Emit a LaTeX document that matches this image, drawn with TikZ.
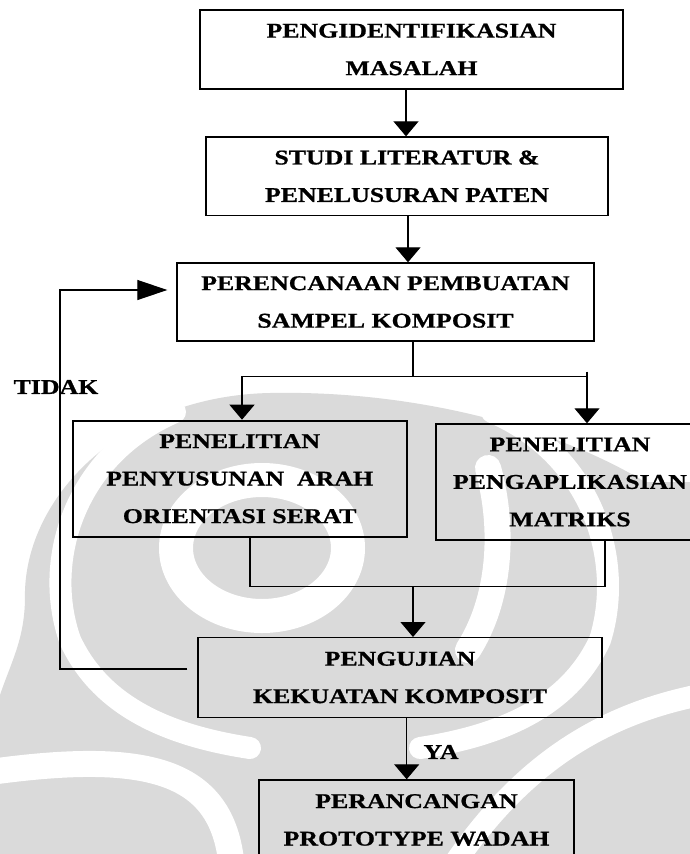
\documentclass[tikz,border=0pt]{standalone}
\usepackage{fontspec}
\newfontfamily\tnr{Liberation Serif}[FakeStretch=1.23,BoldFeatures={FakeBold=0.8}]
\usetikzlibrary{arrows.meta,calc}
\definecolor{wm}{RGB}{218,218,218}
\begin{document}
\begin{tikzpicture}[x=1pt,y=-1pt,
  box/.style={draw=black,line width=1.4pt,align=center,inner sep=0pt,
    font=\tnr\bfseries\fontsize{21}{37.5}\selectfont},
  conn/.style={line width=1.2pt},
  arr/.style={conn,-{Triangle[width=25pt,length=15pt]}},
  arrh/.style={conn,-{Triangle[width=20pt,length=30pt]}},
  lbl/.style={font=\tnr\bfseries\fontsize{21}{24}\selectfont,inner sep=0pt},
  wband/.style={draw=white,line cap=round}]
\fill[white] (0,0) rectangle (690,854);
\useasboundingbox (0,0) rectangle (690,854);
% watermark (approximate)
\begin{scope}
\clip (0,0) rectangle (690,854);
\fill[wm] (0,695) .. controls (12,660) and (24,640) .. (25,600)
  .. controls (22,500) and (120,396) .. (270,393)
  .. controls (420,390) and (560,430) .. (645,482)
  -- (690,482) -- (690,854) -- (0,854) -- cycle;
\draw[wband,line width=22pt] (175,412) .. controls (75,455) and (42,560) .. (70,640)
  .. controls (100,705) and (165,735) .. (250,748);
\draw[wband,line width=22pt] (492,412) .. controls (592,455) and (625,560) .. (600,640)
  .. controls (570,705) and (505,735) .. (420,748);
\draw[wband,line width=34pt] (262,548) ellipse [x radius=86pt,y radius=68pt];
\draw[wband,line width=26pt] (488,468) .. controls (505,530) and (500,600) .. (468,650);
\draw[wband,line width=26pt] (-10,772) .. controls (150,750) and (225,770) .. (232,870);
\draw[wband,line width=22pt] (450,870) .. controls (520,765) and (600,715) .. (700,695);
\end{scope}
% boxes
\node[box,line width=1.8pt,minimum width=423pt,minimum height=79pt] (b1) at (411.5,49.5)
  {PENGIDENTIFIKASIAN\\MASALAH};
\node[box,minimum width=402pt,minimum height=78.5pt] (b2) at (407,176.3)
  {STUDI LITERATUR \&\\PENELUSURAN PATEN};
\node[box,minimum width=417pt,minimum height=78pt] (b3) at (385.5,302)
  {PERENCANAAN PEMBUATAN\\SAMPEL KOMPOSIT};
\node[box,line width=2pt,minimum width=334pt,minimum height=116pt] (b4) at (239.7,478.7)
  {PENELITIAN\\PENYUSUNAN\ \ ARAH\\ORIENTASI SERAT};
\node[box,minimum width=268pt,minimum height=116pt] (b5) at (570,482)
  {PENELITIAN\\PENGAPLIKASIAN\\MATRIKS};
\node[box,minimum width=404pt,minimum height=79.6pt] (b6) at (400,677.5)
  {PENGUJIAN\\KEKUATAN KOMPOSIT};
\node[box,minimum width=315pt,minimum height=80pt] (b7) at (416.5,820)
  {PERANCANGAN\\PROTOTYPE WADAH};
% labels
\node[lbl] (tidak) at (56,387) {TIDAK};
\node[lbl] (ya) at (441,752) {YA};
% helper coordinates
\coordinate (x1) at (406,0);
\coordinate (x2) at (408,0);
\coordinate (sp) at (413,376.7);
\coordinate (xL) at (242,0);
\coordinate (xR) at (587,0);
\coordinate (mL) at (250,0);
\coordinate (mR) at (605,0);
\coordinate (mg) at (413,586.7);
\coordinate (xY) at (406.7,0);
\coordinate (fbL) at (60,669);
\coordinate (fbT) at (60,290);
% connectors
\draw[arr] (b1.south -| x1) -- (b2.north -| x1);
\draw[arr] (b2.south -| x2) -- (b3.north -| x2);
\draw[conn] (b3.south -| sp) -- (sp);
\draw[arr] (sp) -| (b4.north -| xL);
\draw[conn] (sp) -- (sp -| xR);
\draw[arr] ([yshift=5pt]sp -| xR) -- (b5.north -| xR);
\draw[conn] (b4.south -| mL) |- (mg -| mR) -- (b5.south -| mR);
\draw[arr] (mg) -- (b6.north -| mg);
\draw[arr] (b6.south -| xY) -- (b7.north -| xY);
\draw[arrh,shorten <=10pt,shorten >=9pt] (b6.west |- fbL) -- (fbL) -- (fbT) -- (b3.west |- fbT);
\end{tikzpicture}
\end{document}
